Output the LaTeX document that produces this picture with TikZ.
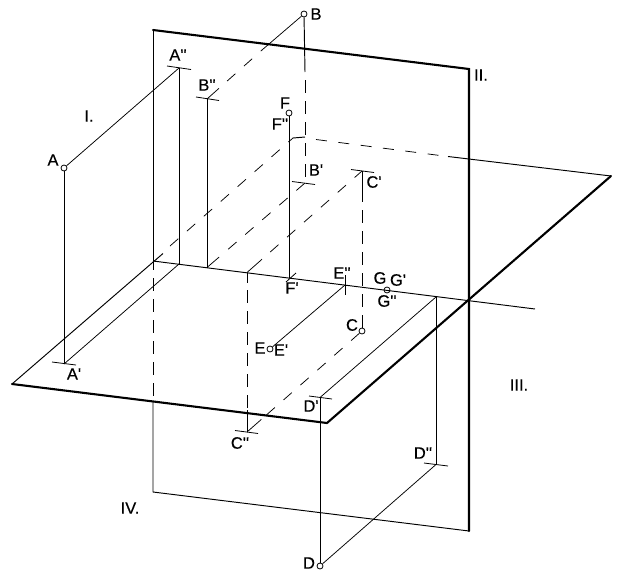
\documentclass[tikz,border=0pt]{standalone}
\usepackage{fontspec}
\usetikzlibrary{calc}
\newfontfamily\labfont[FakeBold=0.3]{Liberation Sans}
\tikzset{
  thin line/.style={line width=0.95pt,black},
  hair line/.style={line width=0.75pt,black},
  thick line/.style={line width=2.1pt,black,line cap=round,line join=miter},
  dash line/.style={line width=0.8pt,black,dash pattern=on 13pt off 8pt},
  sdash line/.style={line width=0.75pt,black,dash pattern=on 11pt off 11.5pt},
  tick line/.style={line width=0.8pt,black},
  pnt/.style={circle,draw=black,fill=white,line width=0.8pt,inner sep=0pt,minimum size=6pt},
  lab/.style={inner sep=0pt,font=\labfont\fontsize{16.5}{16.5}\selectfont,text=black},
}
\begin{document}
\begin{tikzpicture}[x=1pt,y=-1pt]
\useasboundingbox[fill=white] (0,0) rectangle (624,581);
% planes
\coordinate (VTL) at (153,30);
\coordinate (VTR) at (469,69);
\coordinate (VBR) at (469,531);
\coordinate (VBL) at (153,492);
\coordinate (VL1) at (153,262);
\coordinate (VL2) at (153,401);
\coordinate (HFL) at (12,384);
\coordinate (HFR) at (327,423);
\coordinate (HBR) at (611,176);
\coordinate (HBL) at (293,138);
\coordinate (HBK) at (305,137);
\coordinate (HL1) at (163,253.5);
\coordinate (HL2) at (170,246);
\coordinate (HB0) at (316,139.5);
\coordinate (HB1) at (440,155.5);
\coordinate (HB2) at (448,156.5);
\coordinate (AX0) at (153,261);
\coordinate (AX1) at (535,309);
% points on axis
\coordinate (Axa) at (179,264);
\coordinate (Bxa) at (207,267.5);
\coordinate (Cxa) at (247,272.5);
\coordinate (Fxa) at (289,278);
\coordinate (Exa) at (345,285);
\coordinate (Dxa) at (436,297);
% projections
\coordinate (App) at (179,68);
\coordinate (Ap) at (64,364);
\coordinate (Bpp) at (207,99);
\coordinate (Bp) at (305,183);
\coordinate (Cp) at (362,171);
\coordinate (Cpp) at (247,432);
\coordinate (Dp) at (320,397.5);
\coordinate (Dpp) at (436,464.5);
\coordinate (BT) at (305,72);
\coordinate (BD) at (262,50);
\coordinate (CV) at (247,410);
\coordinate (CV0) at (247,283);
\coordinate (CV1) at (247,290);
\coordinate (CS) at (362,198);
% circles
\node[pnt] (A) at (64,168) {};
\node[pnt] (B) at (304,14) {};
\node[pnt] (C) at (362,331) {};
\node[pnt] (D) at (320,566) {};
\node[pnt] (E) at (270,349) {};
\node[pnt] (F) at (289,113) {};
\node[pnt] (G) at (387,290) {};
% vertical plane
\draw[thin line] (VTL) -- (VL1);
\draw[dash line,dash phase=5pt] (VL1) -- (VL2);
\draw[thin line] (VL2) -- (VBL) -- (VBR);
\draw[thick line] (VTL) -- (VTR) -- (VBR);
% horizontal plane
\draw[thin line] (HFL) -- (HL1);
\draw[sdash line] (HL2) -- (HBL);
\draw[thin line] (HBL) -- (HBK);
\draw[sdash line] (HB0) -- (HB1);
\draw[thin line] (HB2) -- (HBR);
\draw[thick line] (HFL) -- (HFR) -- (HBR);
% axis
\draw[thin line] (AX0) -- (AX1);
% A
\draw[thin line] (A) -- (Ap);
\draw[hair line] (A) -- (App);
\draw[thin line] (App) -- (Axa);
\draw[hair line] (Ap) -- (Axa);
\draw[tick line] (167,66) -- (191,69.5);
\draw[tick line] (52,362) -- (76,365);
% B
\draw[thin line] (B) -- (BT);
\draw[dash line,dash phase=13pt] (BT) -- (Bp);
\draw[hair line] (B) -- (BD);
\draw[hair line] (Bpp) -- ($(Bpp)!16pt!(BD)$);
\draw[sdash line] ($(Bpp)!27pt!(BD)$) -- (BD);
\draw[thin line] (Bpp) -- (Bxa);
\draw[hair line] (Bxa) -- ($(Bxa)!16pt!(Bp)$);
\draw[sdash line] ($(Bxa)!28pt!(Bp)$) -- (Bp);
\draw[tick line] (196,97) -- (219,100.5);
\draw[tick line] (292,181.5) -- (315,184.5);
% C
\draw[hair line] (Cxa) -- ($(Cxa)!20pt!(Cp)$);
\draw[sdash line] ($(Cxa)!31pt!(Cp)$) -- (Cp);
\draw[thin line] (Cp) -- (CS);
\draw[dash line] (C) -- (CS);
\draw[sdash line] (C) -- ($(Cpp)!19pt!(C)$);
\draw[hair line] ($(Cpp)!19pt!(C)$) -- (Cpp);
\draw[thin line] (Cxa) -- (CV0);
\draw[dash line] (CV1) -- (CV);
\draw[thin line] (CV) -- (Cpp);
\draw[tick line] (351,169.5) -- (374,172.5);
\draw[tick line] (235,430.5) -- (258,433.5);
% D
\draw[thin line] (D) -- (Dp);
\draw[hair line] (Dp) -- (Dxa);
\draw[thin line] (Dxa) -- (Dpp);
\draw[hair line] (Dpp) -- (D);
\draw[tick line] (309,396) -- (332,399);
\draw[tick line] (424,463) -- (448,466);
% E
\draw[hair line] (E) -- (Exa);
\draw[tick line] (345,275) -- (345,295);
% F
\draw[thin line] (F) -- (Fxa);
\draw[tick line] (286,282) -- (296,273);
% labels
\node[lab] (lA) at (53,160) {A};
\node[lab] (lApp) at (178,55) {A''};
\node[lab] (lAp) at (74,374) {A'};
\node[lab] (lB) at (316,14) {B};
\node[lab] (lBpp) at (207,85) {B''};
\node[lab] (lBp) at (316,170) {B'};
\node[lab] (lC) at (352,325) {C};
\node[lab] (lCp) at (374,182) {C'};
\node[lab] (lCpp) at (240,443) {C''};
\node[lab] (lD) at (309,563) {D};
\node[lab] (lDp) at (311,406) {D'};
\node[lab] (lDpp) at (423,453) {D''};
\node[lab] (lE) at (260,348) {E};
\node[lab] (lEp) at (281,350) {E'};
\node[lab] (lEpp) at (342,273) {E''};
\node[lab] (lF) at (285,103) {F};
\node[lab] (lFpp) at (280,124) {F''};
\node[lab] (lFp) at (292,288) {F'};
\node[lab] (lG) at (380,278) {G};
\node[lab] (lGp) at (398,280) {G'};
\node[lab] (lGpp) at (387,301) {G''};
\node[lab] (lI) at (89,116) {I.};
\node[lab] (lII) at (481,75) {II.};
\node[lab] (lIII) at (519,385) {III.};
\node[lab] (lIV) at (130,508) {IV.};
\end{tikzpicture}
\end{document}
